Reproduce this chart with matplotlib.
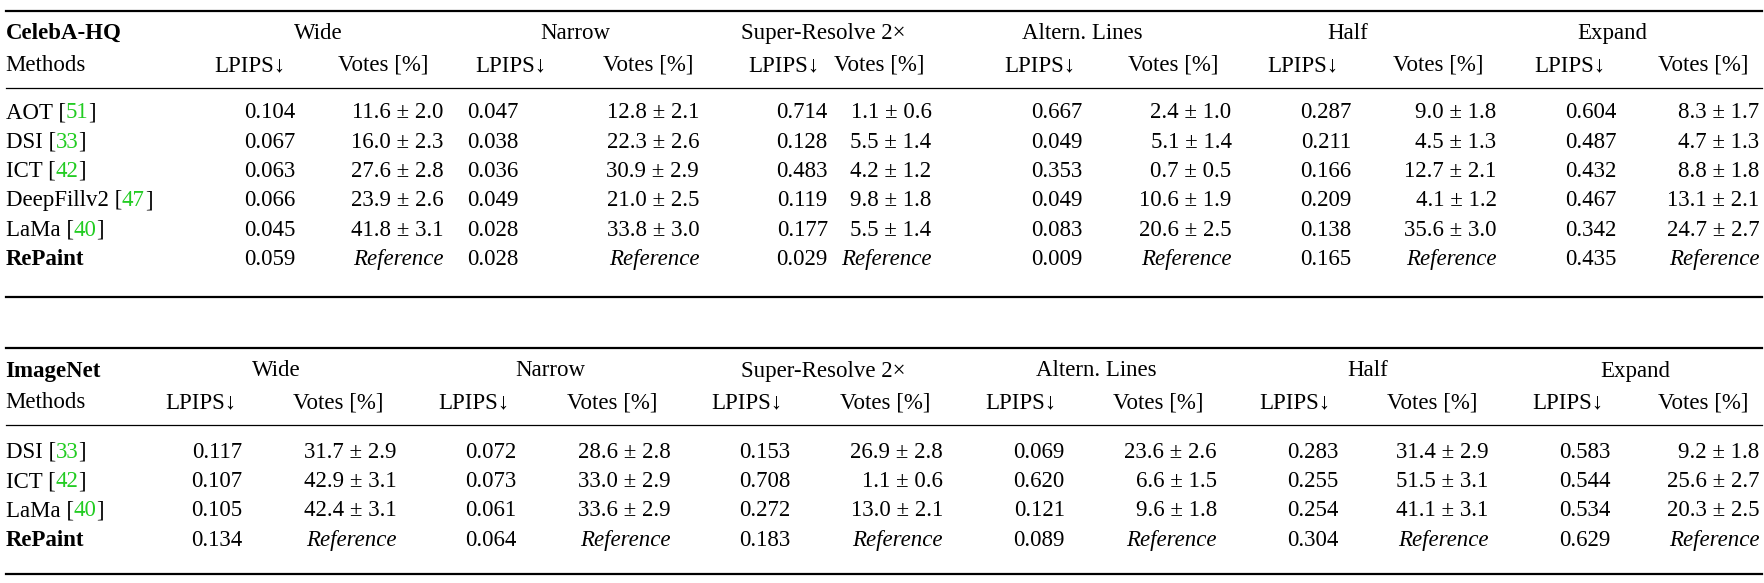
import matplotlib
matplotlib.use("Agg")
import matplotlib.pyplot as plt

masks = ["Wide", "Narrow", "Super-Resolve 2×", "Altern. Lines", "Half", "Expand"]

celeba_methods = [("AOT", "51"), ("DSI", "33"), ("ICT", "42"), ("DeepFillv2", "47"), ("LaMa", "40"), ("RePaint", None)]
celeba_lpips = [
    [0.104, 0.047, 0.714, 0.667, 0.287, 0.604],
    [0.067, 0.038, 0.128, 0.049, 0.211, 0.487],
    [0.063, 0.036, 0.483, 0.353, 0.166, 0.432],
    [0.066, 0.049, 0.119, 0.049, 0.209, 0.467],
    [0.045, 0.028, 0.177, 0.083, 0.138, 0.342],
    [0.059, 0.028, 0.029, 0.009, 0.165, 0.435],
]
celeba_votes = [
    ["11.6 ± 2.0", "12.8 ± 2.1", "1.1 ± 0.6", "2.4 ± 1.0", "9.0 ± 1.8", "8.3 ± 1.7"],
    ["16.0 ± 2.3", "22.3 ± 2.6", "5.5 ± 1.4", "5.1 ± 1.4", "4.5 ± 1.3", "4.7 ± 1.3"],
    ["27.6 ± 2.8", "30.9 ± 2.9", "4.2 ± 1.2", "0.7 ± 0.5", "12.7 ± 2.1", "8.8 ± 1.8"],
    ["23.9 ± 2.6", "21.0 ± 2.5", "9.8 ± 1.8", "10.6 ± 1.9", "4.1 ± 1.2", "13.1 ± 2.1"],
    ["41.8 ± 3.1", "33.8 ± 3.0", "5.5 ± 1.4", "20.6 ± 2.5", "35.6 ± 3.0", "24.7 ± 2.7"],
    [None] * 6,
]
imnet_methods = [("DSI", "33"), ("ICT", "42"), ("LaMa", "40"), ("RePaint", None)]
imnet_lpips = [
    [0.117, 0.072, 0.153, 0.069, 0.283, 0.583],
    [0.107, 0.073, 0.708, 0.620, 0.255, 0.544],
    [0.105, 0.061, 0.272, 0.121, 0.254, 0.534],
    [0.134, 0.064, 0.183, 0.089, 0.304, 0.629],
]
imnet_votes = [
    ["31.7 ± 2.9", "28.6 ± 2.8", "26.9 ± 2.8", "23.6 ± 2.6", "31.4 ± 2.9", "9.2 ± 1.8"],
    ["42.9 ± 3.1", "33.0 ± 2.9", "1.1 ± 0.6", "6.6 ± 1.5", "51.5 ± 3.1", "25.6 ± 2.7"],
    ["42.4 ± 3.1", "33.6 ± 2.9", "13.0 ± 2.1", "9.6 ± 1.8", "41.1 ± 3.1", "20.3 ± 2.5"],
    [None] * 6,
]

W, H = 1765, 583
VW, VH = 1565, 517
fig = plt.figure(figsize=(W / 100, H / 100), dpi=100)
ax = fig.add_axes([0, 0, 1, 1])
ax.set_xlim(0, VW)
ax.set_ylim(VH, 0)
ax.axis("off")
FONT = "Liberation Serif"
FS = 16.5
GREEN = "#22cc22"


def txt(x, y, s, ha="left", **kw):
    return ax.text(x, y, s, ha=ha, va="center", family=FONT, fontsize=FS, **kw)


def table(name, methods, lpips, votes, top, head, lp_r, vo_r, lp_c, vo_c, row0, step, bottom):
    ax.plot([5, 1562], [top, top], color="black", lw=1.6)
    ax.plot([5, 1562], [top + 68, top + 68], color="black", lw=0.9)
    ax.plot([5, 1562], [bottom, bottom], color="black", lw=1.6)
    txt(5, top + 20, name, weight="bold")
    txt(5, top + 48, "Methods")
    for j, m in enumerate(masks):
        txt(head[j], top + 20, m, ha="center")
        txt(lp_c[j], top + 48, "LPIPS↓", ha="center")
        txt(vo_c[j], top + 48, "Votes [%]", ha="center")
    for i, (meth, ref) in enumerate(methods):
        y = row0 + i * step
        if ref is None:
            txt(5, y, meth, weight="bold")
        else:
            t = txt(5, y, meth + " [")
            fig.canvas.draw()
            bb = t.get_window_extent().transformed(ax.transData.inverted())
            t2 = txt(bb.x1, y, ref, color=GREEN)
            fig.canvas.draw()
            bb2 = t2.get_window_extent().transformed(ax.transData.inverted())
            txt(bb2.x1, y, "]")
        for j in range(6):
            txt(lp_r[j], y, f"{lpips[i][j]:.3f}", ha="right")
            v = votes[i][j]
            if v is None:
                txt(vo_r[j], y, "Reference", ha="right", style="italic")
            else:
                txt(vo_r[j], y, v, ha="right")


table("CelebA-HQ", celeba_methods, celeba_lpips, celeba_votes, 10,
      [282, 510, 730, 960, 1195, 1430],
      [262, 460, 734, 960, 1198, 1433],
      [393, 620, 826, 1092, 1327, 1560],
      [222, 453, 695, 922, 1155, 1392],
      [340, 575, 780, 1040, 1275, 1510],
      100, 26, 263)
table("ImageNet", imnet_methods, imnet_lpips, imnet_votes, 309,
      [245, 488, 730, 972, 1213, 1450],
      [215, 458, 701, 944, 1187, 1428],
      [352, 595, 836, 1079, 1320, 1560],
      [178, 420, 662, 905, 1148, 1390],
      [300, 543, 785, 1027, 1270, 1510],
      401, 26, 509)

fig.savefig("out.png", dpi=100)
